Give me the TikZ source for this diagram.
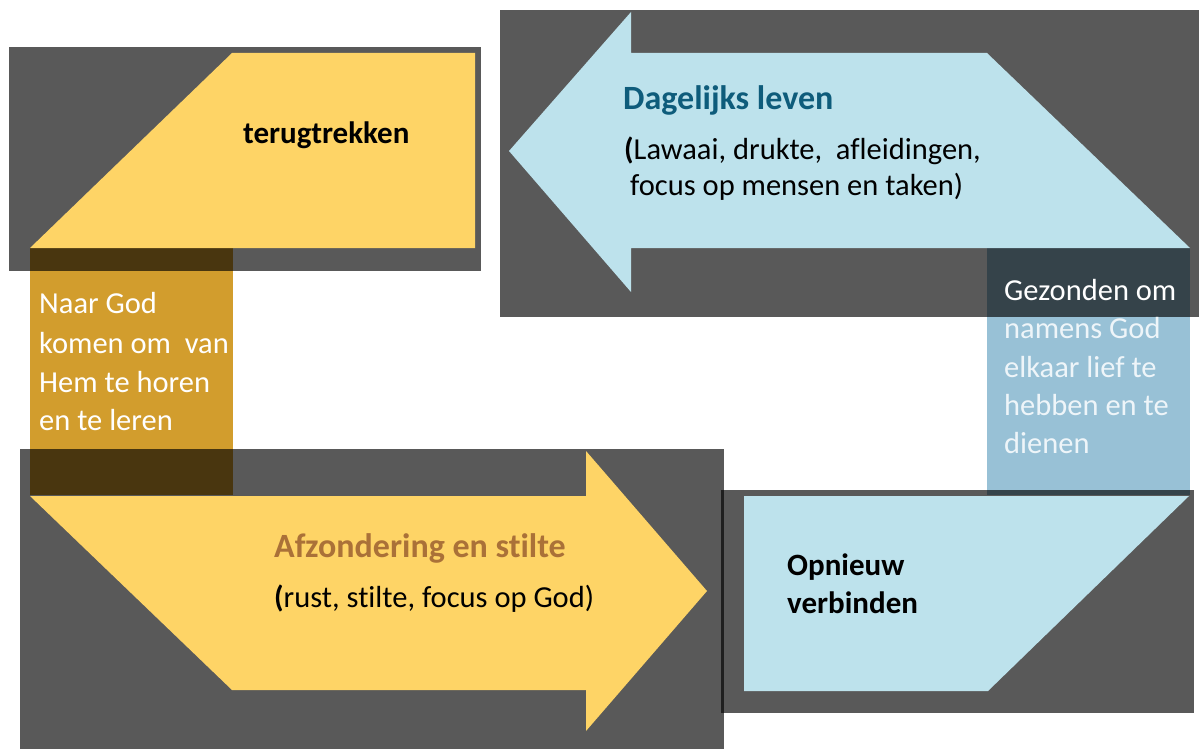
\documentclass[tikz,border=0pt]{standalone}
\usepackage{fontspec}
\setmainfont{Carlito}[Ligatures=NoCommon]
\definecolor{yel}{HTML}{FED466}
\definecolor{lblue}{HTML}{BDE2EC}
\definecolor{obar}{HTML}{D29D2D}
\definecolor{bbar}{HTML}{98C1D6}
\definecolor{dagcol}{HTML}{0E5C7B}
\definecolor{afzcol}{HTML}{AA7138}
\definecolor{lighttxt}{HTML}{EEF5F9}
\begin{document}
\begin{tikzpicture}[x=1pt,y=-1pt,
  darkbox/.style={fill=black,fill opacity=0.65},
  txt/.style={anchor=base west,inner sep=0pt,font=\fontsize{30.5}{36}\selectfont},
  btxt/.style={txt,font=\fontsize{31}{36}\selectfont\bfseries},
  ttxt/.style={txt,font=\fontsize{34}{40}\selectfont\bfseries}]
\useasboundingbox (0,0) rectangle (1199,749);
% vertical bars (under the dark boxes)
\fill[obar] (30,248) rectangle (233,495);
\fill[bbar] (987,248) rectangle (1190,495);
% dark boxes
\fill[darkbox] (9,47) rectangle (481,271);
\fill[darkbox] (500,10) rectangle (1199,317);
\fill[darkbox] (20,449) rectangle (724,749);
\fill[darkbox] (721,490) rectangle (1194,713);
% shapes
\fill[yel] (232,53) -- (475,53) -- (475,248) -- (30,248) -- cycle;
\fill[lblue] (509,151) -- (631,12) -- (631,53) -- (987,53) -- (1190,248) -- (631,248) -- (631,292) -- cycle;
\fill[yel] (30,496) -- (586,496) -- (586,451) -- (707,591) -- (586,731) -- (586,690) -- (232,690) -- cycle;
\fill[lblue] (744,496) -- (1189,496) -- (988,691) -- (744,691) -- cycle;
% texts
\node[btxt] (t1) at (243,143) {terugtrekken};
\node[ttxt,text=dagcol] (d1) at (623,110) {Dagelijks leven};
\node[txt] (d2) at (624,160) {\textbf{(}Lawaai, drukte,\ \ afleidingen,};
\node[txt] (d3) at (630,195) {focus op mensen en taken)};
\node[txt,text=white] (n1) at (39,313) {Naar God};
\node[txt,text=white] (n2) at (39,353) {komen om\ \ van};
\node[txt,text=white] (n3) at (39,392) {Hem te horen};
\node[txt,text=white] (n4) at (39,430) {en te leren};
\node[txt,text=white] (g1) at (1004,300) {Gezonden om};
\node[txt,text=lighttxt] (g2) at (1004,338) {namens God};
\node[txt,text=lighttxt] (g3) at (1004,377) {elkaar lief te};
\node[txt,text=lighttxt] (g4) at (1004,415) {hebben en te};
\node[txt,text=lighttxt] (g5) at (1004,453) {dienen};
\node[btxt] (o1) at (787,575) {Opnieuw};
\node[btxt] (o2) at (787,613) {verbinden};
\node[ttxt,text=afzcol] (a1) at (274,557) {Afzondering en stilte};
\node[txt] (a2) at (274,607) {\textbf{(}rust, stilte, focus op God)};
\end{tikzpicture}
\end{document}
